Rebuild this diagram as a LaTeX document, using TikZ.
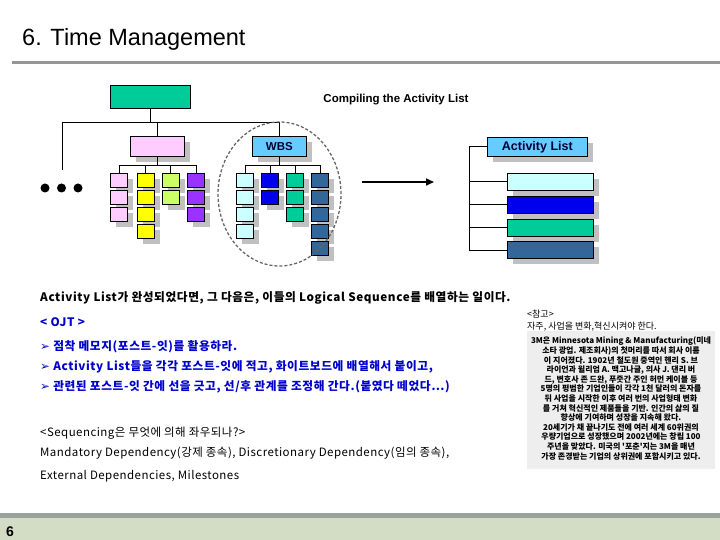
\documentclass[tikz,border=0pt]{standalone}
\usepackage{fontspec}
\setmainfont{Liberation Sans}
\newfontfamily\kr{Noto Sans CJK KR}
\newfontfamily\krsp[LetterSpace=5]{Noto Sans CJK KR}
\newfontfamily\krspn[LetterSpace=4]{Noto Sans CJK KR}
\newfontfamily\djv{DejaVu Sans}
\usetikzlibrary{shadows,arrows.meta}
\definecolor{ktopgreen}{HTML}{00CC99}
\definecolor{kpink}{HTML}{FFCCFF}
\definecolor{kyellow}{HTML}{FFFF00}
\definecolor{klgreen}{HTML}{CCFF66}
\definecolor{kpurple}{HTML}{9933FF}
\definecolor{klcyan}{HTML}{CCFFFF}
\definecolor{kblue}{HTML}{0000EE}
\definecolor{kgreen}{HTML}{00CC99}
\definecolor{ksteel}{HTML}{336699}
\definecolor{kwbs}{HTML}{66CCFF}
\definecolor{kshadow}{HTML}{C0C0C0}
\definecolor{ktitleline}{HTML}{969696}
\definecolor{kfootdark}{HTML}{99A39B}
\definecolor{kfootlight}{HTML}{D3DCC4}
\definecolor{knavy}{HTML}{000033}
\definecolor{ktextblue}{HTML}{0000CC}
\definecolor{kboxgray}{HTML}{EEEEEE}
\tikzset{
  shd/.style={drop shadow={shadow xshift=6pt, shadow yshift=-6pt, fill=kshadow, opacity=1}},
  bx/.style={draw=black, line width=0.7pt, inner sep=0pt, minimum width=17pt, minimum height=14pt, anchor=north west, shd},
  bigbx/.style={draw=black, line width=0.7pt, inner sep=0pt, anchor=north west, shd},
  conn/.style={draw=black, line width=0.7pt},
  txt/.style={anchor=base west, inner sep=0pt},
  boldkr/.style={txt, font=\krsp\bfseries\fontsize{11.7}{13}\selectfont},
  normkr/.style={txt, font=\krspn\fontsize{11.5}{13}\selectfont},
}
\begin{document}
\begin{tikzpicture}[x=1pt,y=-1pt]
\useasboundingbox (0,0) rectangle (720,540);
% title
\node[txt, font=\fontsize{23.5}{27}\selectfont] (title) at (22,46) {6. Time Management};
\draw[line width=3pt, ktitleline] (12,63) -- (720,63);
% footer
\fill[kfootdark] (0,513) rectangle (720,518);
\fill[kfootlight] (0,518) rectangle (720,540);
\node[txt, font=\bfseries\fontsize{14}{16}\selectfont] (pageno) at (6,536) {6};
% heading
\node[anchor=base, inner sep=0pt, font=\bfseries\fontsize{11.5}{13}\selectfont] (compiling) at (396,103) {Compiling the Activity List};
% tree
\node[draw=black, line width=0.7pt, inner sep=0pt, anchor=north west, fill=ktopgreen, minimum width=80pt, minimum height=23pt] (top) at (110,85) {};
\node[bigbx, fill=kpink, minimum width=54pt, minimum height=20pt] (pinkb) at (130,136) {};
\node[bigbx, fill=kwbs, minimum width=54pt, minimum height=20pt, font=\bfseries\fontsize{11.5}{13}\selectfont, text=knavy] (wbs) at (252,136) {WBS};
\coordinate (hubL) at (62,122);
\coordinate (hubR) at (279,122);
\coordinate (dotsEnd) at (62,170);
\draw[conn] (top.south) -- (top.south |- hubL);
\draw[conn] (hubL) -- (hubR);
\draw[conn] (hubL) -- (dotsEnd);
\draw[conn] (pinkb.north) -- (pinkb.north |- hubL);
\draw[conn] (wbs.north) -- (wbs.north |- hubL);
\node[circle, fill=black, inner sep=0pt, minimum size=9pt] (d1) at (45,188) {};
\node[circle, fill=black, inner sep=0pt, minimum size=9pt] (d2) at (61.5,188) {};
\node[circle, fill=black, inner sep=0pt, minimum size=9pt] (d3) at (78,188) {};
% small boxes
\foreach \c/\x/\n/\col in {p1/110/3/kpink, p2/136.5/4/kyellow, p3/161.5/2/klgreen, p4/187/3/kpurple, w1/236/4/klcyan, w2/261/2/kblue, w3/286/3/kgreen, w4/311/5/ksteel} {
  \foreach \i in {1,...,\n} {
    \node[bx, fill=\col] (\c-\i) at (\x, {173+17*(\i-1)}) {};
  }
}
\coordinate (ph) at (157,165.5);
\coordinate (wh) at (279,165.5);
\draw[conn] (pinkb.south) -- (pinkb.south |- ph);
\draw[conn] (p1-1.north |- ph) -- (p4-1.north |- ph);
\foreach \c in {p1,p2,p3,p4} \draw[conn] (\c-1.north |- ph) -- (\c-1.north);
\draw[conn] (wbs.south) -- (wbs.south |- wh);
\draw[conn] (w1-1.north |- wh) -- (w4-1.north |- wh);
\foreach \c in {w1,w2,w3,w4} \draw[conn] (\c-1.north |- wh) -- (\c-1.north);
% dashed ellipse
\draw[dashed, dash pattern=on 3pt off 2pt, line width=1.3pt, black!60] (279.5,194) ellipse [x radius=61.5pt, y radius=72pt];
% arrow
\coordinate (arS) at (362,182);
\coordinate (arE) at (434,182);
\draw[line width=1.6pt, -{Triangle[length=8pt,width=7pt]}] (arS) -- (arE);
% activity list
\node[bigbx, fill=kwbs, minimum width=100pt, minimum height=19pt, font=\bfseries\fontsize{12.5}{14}\selectfont, text=knavy] (al) at (487,137) {Activity List};
\node[bigbx, fill=klcyan, minimum width=86pt, minimum height=17pt] (b1) at (507,173) {};
\node[bigbx, fill=kblue, minimum width=86pt, minimum height=17pt] (b2) at (507,196) {};
\node[bigbx, fill=kgreen, minimum width=86pt, minimum height=17pt] (b3) at (507,219) {};
\node[bigbx, fill=ksteel, minimum width=86pt, minimum height=17pt] (b4) at (507,241) {};
\coordinate (br) at (469,146.5);
\draw[conn] (al.west) -- (al.west -| br) -- (b4.west -| br);
\foreach \b in {b1,b2,b3,b4} \draw[conn] (\b.west -| br) -- (\b.west);
% body text
\node[boldkr] (l1) at (40,301) {Activity List가 완성되었다면, 그 다음은, 이들의 Logical Sequence를 배열하는 일이다.};
\node[boldkr, text=ktextblue] (l2) at (40,326) {< OJT >};
\node[boldkr, text=ktextblue] (l3) at (40,350) {{\djv\mdseries ➢} 점착 메모지(포스트-잇)를 활용하라.};
\node[boldkr, text=ktextblue] (l4) at (40,370) {{\djv\mdseries ➢} Activity List들을 각각 포스트-잇에 적고, 화이트보드에 배열해서 붙이고,};
\node[boldkr, text=ktextblue] (l5) at (40,390) {{\djv\mdseries ➢} 관련된 포스트-잇 간에 선을 긋고, 선/후 관계를 조정해 간다.(붙였다 떼었다…)};
\node[normkr] (l6) at (40,436) {<Sequencing은 무엇에 의해 좌우되나?>};
\node[normkr] (l7) at (40,456) {Mandatory Dependency(강제 종속), Discretionary Dependency(임의 종속),};
\node[normkr] (l8) at (40,479) {External Dependencies, Milestones};
% right note
\node[txt, font=\kr\fontsize{9}{11}\selectfont] (ref) at (527,317) {<참고>};
\node[txt, font=\kr\fontsize{9}{11}\selectfont] (ref2) at (527,329) {자주, 사업을 변화,혁신시켜야 한다.};
\node[fill=kboxgray, anchor=north west, inner sep=0pt, minimum width=188pt, minimum height=138pt] (gbox) at (527,331) {};
\node[anchor=north, inner sep=0pt, align=center, font=\kr\bfseries\fontsize{8}{9.6}\selectfont] (gtext) at (621,337) {3M은 Minnesota Mining \& Manufacturing(미네\\소타 광업. 제조회사)의 첫머리를 따서 회사 이름\\이 지어졌다. 1902년 철도원 중역인 헨리 S. 브\\라이언과 윌리엄 A. 맥고나글, 의사 J. 댄리 버\\드, 변호사 존 드완, 푸줏간 주인 허먼 케이블 등\\5명의 평범한 기업인들이 각각 1천 달러의 돈자를\\뒤 사업을 시작한 이후 여러 번의 사업형태 변화\\를 거쳐 혁신적인 제품들을 기반. 인간의 삶의 질\\향상에 기여하며 성장을 지속해 왔다.\\20세기가 채 끝나기도 전에 여러 세계 60위권의\\우량기업으로 성장했으며 2002년에는 창립 100\\주년을 맞았다. 미국의 '포춘'지는 3M을 매년\\가장 존경받는 기업의 상위권에 포함시키고 있다.};
\end{tikzpicture}
\end{document}
